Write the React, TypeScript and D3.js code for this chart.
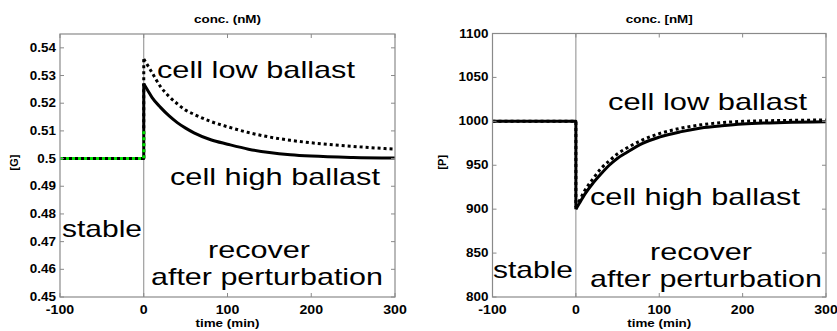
import * as d3 from "d3";

// shared time axis
const stableTimes = [-100, 0];
const recoverTimes = [0, 5, 10, 20, 30, 40, 50, 60, 80, 100, 125, 150, 175, 200, 250, 300];

// left panel: [G]
const gStable = [0.5, 0.5];
const gHigh = [0.527, 0.5245, 0.522, 0.5185, 0.5155, 0.513, 0.511, 0.5093, 0.5068, 0.5052, 0.5034, 0.5022, 0.5014, 0.5009, 0.5004, 0.5002];
const gLow = [0.536, 0.5335, 0.531, 0.526, 0.5225, 0.5198, 0.5175, 0.516, 0.5134, 0.5115, 0.5094, 0.5078, 0.5066, 0.5057, 0.5044, 0.5034];
const gGreenTimes = [-100, 0, 0];
const gGreen = [0.5, 0.5, 0.51];
const gTicks = [0.45, 0.46, 0.47, 0.48, 0.49, 0.5, 0.51, 0.52, 0.53, 0.54];

// right panel: [P]
const pStable = [1000, 1000];
const pHigh = [900, 908, 916, 929, 940, 950, 958, 964, 975, 982, 988, 992.5, 995, 997, 998.7, 999.4];
const pLow = [902, 911, 920, 934, 946, 955, 963, 969, 979, 986, 992, 996, 998.5, 1000, 1001, 1001.5];
const pTicks = [800, 850, 900, 950, 1000, 1050, 1100];

const xTicks = [-100, 0, 100, 200, 300];

const FONT = "'Liberation Sans', Arial, sans-serif";
const AXIS = "#8a8a8a";

type Label = { text: string; x: number; y: number; w: number };

interface PanelProps {
  id: string;
  box: { x0: number; x1: number; y0: number; y1: number };
  yDomain: [number, number];
  yTicks: number[];
  yFmt: (v: number) => string;
  title: string;
  yLabel: string;
  yLabelX: number;
  stable: number[];
  high: number[];
  low: number[];
  green?: { t: number[]; v: number[] };
  labels: Label[];
}

function Panel(p: PanelProps) {
  const { x0, x1, y0, y1 } = p.box;
  const x = d3.scaleLinear().domain([-100, 300]).range([x0, x1]);
  const y = d3.scaleLinear().domain(p.yDomain).range([y1, y0]);

  const lin = d3
    .line<[number, number]>()
    .x((d) => x(d[0]))
    .y((d) => y(d[1]));
  const smooth = d3
    .line<[number, number]>()
    .x((d) => x(d[0]))
    .y((d) => y(d[1]))
    .curve(d3.curveMonotoneX);

  const zip = (t: number[], v: number[]) => t.map((tt, i) => [tt, v[i]] as [number, number]);
  // stable phase plus the jump at t=0
  const pre = (vals: number[], jump: number) => lin([...zip(stableTimes, vals), [0, jump]]);

  const cx = (x0 + x1) / 2;
  const cy = (y0 + y1) / 2;

  return (
    <g>
      <clipPath id={p.id}>
        <rect x={x0} y={y0} width={x1 - x0} height={y1 - y0} />
      </clipPath>
      <rect x={x0} y={y0} width={x1 - x0} height={y1 - y0} fill="#fff" />
      {/* perturbation marker */}
      <line x1={x(0)} x2={x(0)} y1={y0} y2={y1} stroke={AXIS} strokeWidth={1} />

      <g clipPath={`url(#${p.id})`} fill="none" strokeLinejoin="round">
        <path d={pre(p.stable, p.low[0]) ?? ""} stroke="#000" strokeWidth={3} strokeDasharray="3,3" />
        <path d={smooth(zip(recoverTimes, p.low)) ?? ""} stroke="#000" strokeWidth={3} strokeDasharray="3,3" />
        <path d={pre(p.stable, p.high[0]) ?? ""} stroke="#000" strokeWidth={3} />
        <path d={smooth(zip(recoverTimes, p.high)) ?? ""} stroke="#000" strokeWidth={3} />
        {p.green && (
          <path d={lin(zip(p.green.t, p.green.v)) ?? ""} stroke="#00e000" strokeWidth={3} strokeDasharray="3,3" />
        )}
      </g>

      {/* box and inward ticks */}
      <rect x={x0} y={y0} width={x1 - x0} height={y1 - y0} fill="none" stroke={AXIS} strokeWidth={1.2} />
      {xTicks.map((t) => (
        <g key={"x" + t}>
          <line x1={x(t)} x2={x(t)} y1={y1} y2={y1 - 4} stroke={AXIS} />
          <line x1={x(t)} x2={x(t)} y1={y0} y2={y0 + 4} stroke={AXIS} />
          <text
            transform={`translate(${x(t)},${y1 + 17}) scale(1.18,1)`}
            textAnchor="middle"
            fontSize={12}
            fontWeight="bold"
            fontFamily={FONT}
          >
            {t}
          </text>
        </g>
      ))}
      {p.yTicks.map((t) => (
        <g key={"y" + t}>
          <line x1={x0} x2={x0 + 4} y1={y(t)} y2={y(t)} stroke={AXIS} />
          <line x1={x1} x2={x1 - 4} y1={y(t)} y2={y(t)} stroke={AXIS} />
          <text
            transform={`translate(${x0 - 4},${y(t) + 4}) scale(1.12,1)`}
            textAnchor="end"
            fontSize={12}
            fontWeight="bold"
            fontFamily={FONT}
          >
            {p.yFmt(t)}
          </text>
        </g>
      ))}

      <text
        transform={`translate(${cx},23) scale(1.22,1)`}
        textAnchor="middle"
        fontSize={11}
        fontWeight="bold"
        fontFamily={FONT}
      >
        {p.title}
      </text>
      <text
        transform={`translate(${cx},327) scale(1.22,1)`}
        textAnchor="middle"
        fontSize={11}
        fontWeight="bold"
        fontFamily={FONT}
      >
        time (min)
      </text>
      <text
        transform={`translate(${p.yLabelX},${cy - 3}) rotate(-90)`}
        textAnchor="middle"
        fontSize={11}
        fontWeight="bold"
        fontFamily={FONT}
      >
        {p.yLabel}
      </text>

      {p.labels.map((l) => (
        <text
          key={l.text}
          x={l.x}
          y={l.y}
          fontSize={24}
          fontFamily={FONT}
          textLength={l.w}
          lengthAdjust="spacingAndGlyphs"
        >
          {l.text}
        </text>
      ))}
    </g>
  );
}

export default function App() {
  return (
    <svg
      width={837}
      height={331}
      style={{ position: "absolute", left: 0, top: 0, background: "#fff" }}
    >
      <rect width={837} height={331} fill="#fff" />
      <Panel
        id="clipG"
        box={{ x0: 60, x1: 395, y0: 34, y1: 297 }}
        yDomain={[0.45, 0.545]}
        yTicks={gTicks}
        yFmt={(v) => d3.format("")(+v.toFixed(2))}
        title="conc. (nM)"
        yLabel="[G]"
        yLabelX={18}
        stable={gStable}
        high={gHigh}
        low={gLow}
        green={{ t: gGreenTimes, v: gGreen }}
        labels={[
          { text: "cell low ballast", x: 157, y: 78, w: 198 },
          { text: "cell high ballast", x: 170, y: 185, w: 210 },
          { text: "stable", x: 62, y: 237, w: 80 },
          { text: "recover", x: 208, y: 258, w: 102 },
          { text: "after perturbation", x: 151, y: 285, w: 232 },
        ]}
      />
      <Panel
        id="clipP"
        box={{ x0: 492.5, x1: 826, y0: 33.5, y1: 297 }}
        yDomain={[800, 1100]}
        yTicks={pTicks}
        yFmt={(v) => String(v)}
        title="conc. [nM]"
        yLabel="[P]"
        yLabelX={446}
        stable={pStable}
        high={pHigh}
        low={pLow}
        labels={[
          { text: "cell low ballast", x: 608, y: 110, w: 199 },
          { text: "cell high ballast", x: 590, y: 205, w: 210 },
          { text: "stable", x: 493, y: 278, w: 80 },
          { text: "recover", x: 650, y: 260, w: 102 },
          { text: "after perturbation", x: 590, y: 287, w: 232 },
        ]}
      />
    </svg>
  );
}
